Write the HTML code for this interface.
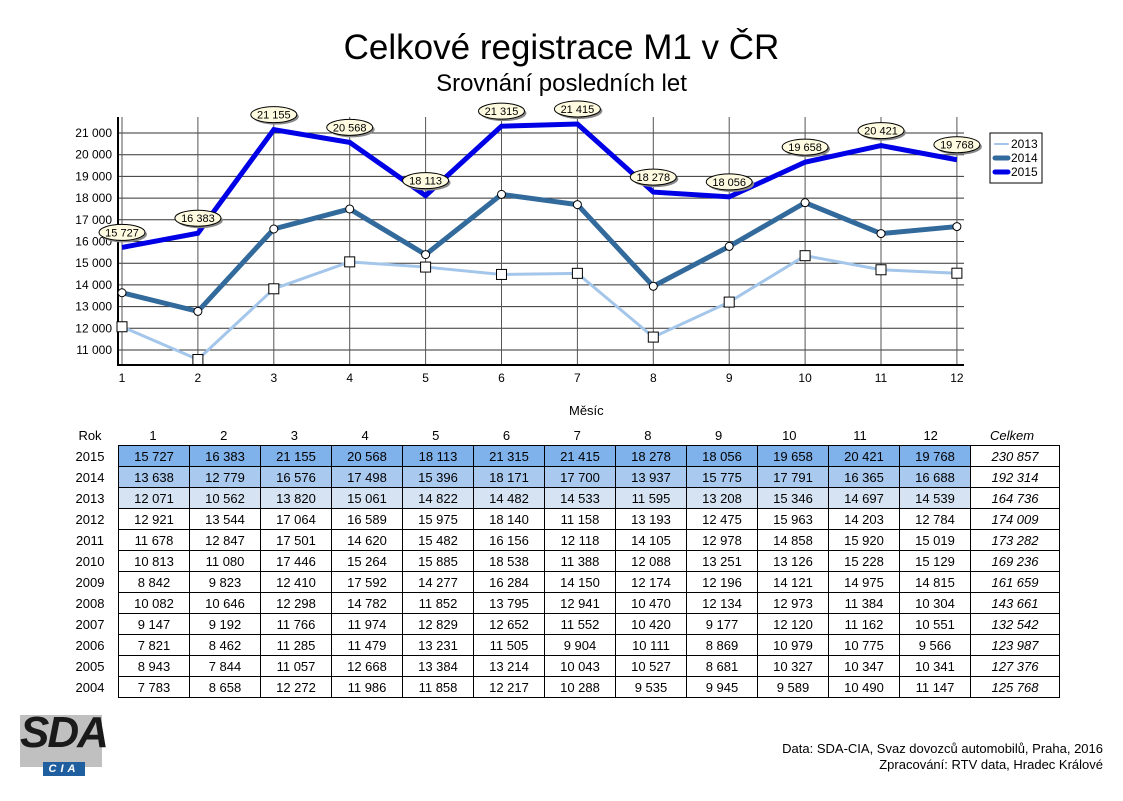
<!DOCTYPE html>
<html><head><meta charset="utf-8">
<style>
body{margin:0;background:#fff;font-family:"Liberation Sans",Arial,sans-serif;}
#wrap{position:relative;width:1123px;height:801px;overflow:hidden;}
.t{position:absolute;white-space:nowrap;color:#000;}
table{position:absolute;left:118px;top:445px;border-collapse:collapse;font-size:13px;table-layout:fixed;width:937px;}
td{border:1px solid #000;height:20px;padding:0;text-align:center;}
td.c{width:70px;}
td.tot{width:88px;font-style:italic;}
</style></head><body>
<div id="wrap">
<div class="t" style="left:0;width:1123px;text-align:center;top:28px;font-size:35px;">Celkové registrace M1 v ČR</div>
<div class="t" style="left:0;width:1123px;text-align:center;top:70px;font-size:24px;">Srovnání posledních let</div>
<svg id="chart" width="1123" height="400" style="position:absolute;left:0;top:0"></svg>
<div class="t" style="left:569px;top:403px;font-size:13px;">Měsíc</div>
<div id="hdr"></div>
<table id="tbl"></table>
<div style="position:absolute;left:20px;top:715px;width:82px;height:52px;background:#c0c0c0;"></div>
<div class="t" style="left:20px;top:708px;font-size:44px;font-weight:bold;font-style:italic;color:#1a1a1a;letter-spacing:-2px;">SDA</div>
<div class="t" style="left:43px;top:762px;width:42px;height:14px;background:#1f5f9f;color:#fff;font-size:11px;font-weight:bold;font-style:italic;text-align:center;letter-spacing:4px;line-height:14px;">CIA</div>
<div class="t" style="right:20px;top:741px;font-size:13px;text-align:right;line-height:16px;">Data: SDA-CIA, Svaz dovozců automobilů, Praha, 2016<br>Zpracování: RTV data, Hradec Králové</div>
</div>
<script>
const months=[1,2,3,4,5,6,7,8,9,10,11,12];
const s2015=[15727,16383,21155,20568,18113,21315,21415,18278,18056,19658,20421,19768];
const s2014=[13638,12779,16576,17498,15396,18171,17700,13937,15775,17791,16365,16688];
const s2013=[12071,10562,13820,15061,14822,14482,14533,11595,13208,15346,14697,14539];
const yTicks=[11000,12000,13000,14000,15000,16000,17000,18000,19000,20000,21000];
const years=[2015,2014,2013,2012,2011,2010,2009,2008,2007,2006,2005,2004];
const tableRows=[
s2015,s2014,s2013,
[12921,13544,17064,16589,15975,18140,11158,13193,12475,15963,14203,12784],
[11678,12847,17501,14620,15482,16156,12118,14105,12978,14858,15920,15019],
[10813,11080,17446,15264,15885,18538,11388,12088,13251,13126,15228,15129],
[8842,9823,12410,17592,14277,16284,14150,12174,12196,14121,14975,14815],
[10082,10646,12298,14782,11852,13795,12941,10470,12134,12973,11384,10304],
[9147,9192,11766,11974,12829,12652,11552,10420,9177,12120,11162,10551],
[7821,8462,11285,11479,13231,11505,9904,10111,8869,10979,10775,9566],
[8943,7844,11057,12668,13384,13214,10043,10527,8681,10327,10347,10341],
[7783,8658,12272,11986,11858,12217,10288,9535,9945,9589,10490,11147]];
const totals=[230857,192314,164736,174009,173282,169236,161659,143661,132542,123987,127376,125768];
const fmt=v=>String(v).replace(/\B(?=(\d{3})+(?!\d))/g,' ');
const X=m=>122+(m-1)*75.9;
const Y=v=>133+(21000-v)*0.0217;
const NS='http://www.w3.org/2000/svg';
const svg=document.getElementById('chart');
function mk(tag,attrs){const e=document.createElementNS(NS,tag);for(const k in attrs)e.setAttribute(k,attrs[k]);svg.appendChild(e);return e;}
yTicks.forEach(v=>{
 const l=mk('line',{x1:118,x2:964,y1:Y(v),y2:Y(v),stroke:'#333','stroke-width':1});
 
 
 const t=mk('text',{x:112,y:Y(v)+4,'text-anchor':'end','font-size':12,'font-family':'Liberation Sans, sans-serif'});t.textContent=fmt(v);
 
 
});
months.forEach(m=>{
 const l=mk('line',{x1:X(m),x2:X(m),y1:117,y2:365,stroke:'#555','stroke-width':1});
 
 
 const t=mk('text',{x:X(m),y:382,'text-anchor':'middle','font-size':12,'font-family':'Liberation Sans, sans-serif'});t.textContent=m;
 
 
});
const ax=mk('path',{d:'M118 117 V365 H964',fill:'none',stroke:'#000','stroke-width':2});


function series(data,color,w,name){
 const p=mk('polyline',{points:data.map((v,i)=>X(months[i])+','+Y(v)).join(' '),fill:'none',stroke:color,'stroke-width':w,'stroke-linejoin':'miter'});
 
 
}
series(s2013,'#a4c6ea',3,'line-2013');
series(s2014,'#336a9c',5,'line-2014');
series(s2015,'#0000e6',5,'line-2015');
s2013.forEach((v,i)=>{const r=mk('rect',{x:X(months[i])-5,y:Y(v)-5,width:10,height:10,fill:'#fff',stroke:'#000'});
 
 });
s2014.forEach((v,i)=>{const c=mk('circle',{cx:X(months[i]),cy:Y(v),r:4,fill:'#fff',stroke:'#000'});
 
 });
s2015.forEach((v,i)=>{
 const x=X(months[i]),y=Y(v)-15;
 const g=document.createElementNS(NS,'g');svg.appendChild(g);
 
 
 const sh=document.createElementNS(NS,'ellipse');Object.entries({cx:x+2,cy:y+2,rx:23,ry:8,fill:'#888'}).forEach(([k,a])=>sh.setAttribute(k,a));g.appendChild(sh);
 const e=document.createElementNS(NS,'ellipse');Object.entries({cx:x,cy:y,rx:23,ry:8,fill:'#fffbe0',stroke:'#000'}).forEach(([k,a])=>e.setAttribute(k,a));g.appendChild(e);
 const t=document.createElementNS(NS,'text');Object.entries({x:x,y:y+4,'text-anchor':'middle','font-size':11,'font-family':'Liberation Sans, sans-serif'}).forEach(([k,a])=>t.setAttribute(k,a));t.textContent=fmt(v);g.appendChild(t);
});
const lg=mk('rect',{x:990,y:133,width:52,height:50,fill:'#fff',stroke:'#000'});


const legItems=[['2013','#a4c6ea'],['2014','#336a9c'],['2015','#0000e6']];
legItems.forEach((it,i)=>{
 const y=144+i*14;
 const l=mk('line',{x1:995,x2:1008,y1:y,y2:y,stroke:it[1],'stroke-width':i?5:2,'stroke-linecap':'round'});
 
 
 const t=mk('text',{x:1011,y:y+4,'font-size':12,'font-family':'Liberation Sans, sans-serif'});t.textContent=it[0];
 
 
});
const hdr=document.getElementById('hdr');
function lab(txt,l,top,w,extra){const d=document.createElement('div');d.className='t';d.style.cssText=`left:${l}px;top:${top}px;width:${w}px;text-align:center;font-size:13px;`+(extra||'');d.textContent=txt;hdr.appendChild(d);return d;}
let r=lab('Rok',70,428,40);


months.forEach((m,i)=>{const d=lab(m,118+i*70.7,428,70);
 
 });
let ce=lab('Celkem',966,428,92,'font-style:italic;');


const tbl=document.getElementById('tbl');
const bg=['#7fb1ea','#a9c9ef','#d5e3f3'];
tableRows.forEach((row,ri)=>{
 const tr=document.createElement('tr');
 
 
 row.forEach(v=>{const td=document.createElement('td');td.className='c';td.textContent=fmt(v);if(ri<3)td.style.background=bg[ri];tr.appendChild(td);});
 const td=document.createElement('td');td.className='tot';td.textContent=fmt(totals[ri]);tr.appendChild(td);
 tbl.appendChild(tr);
 const y=lab(years[ri],68,449+ri*21,44);
 
 
});
</script>
</body></html>
